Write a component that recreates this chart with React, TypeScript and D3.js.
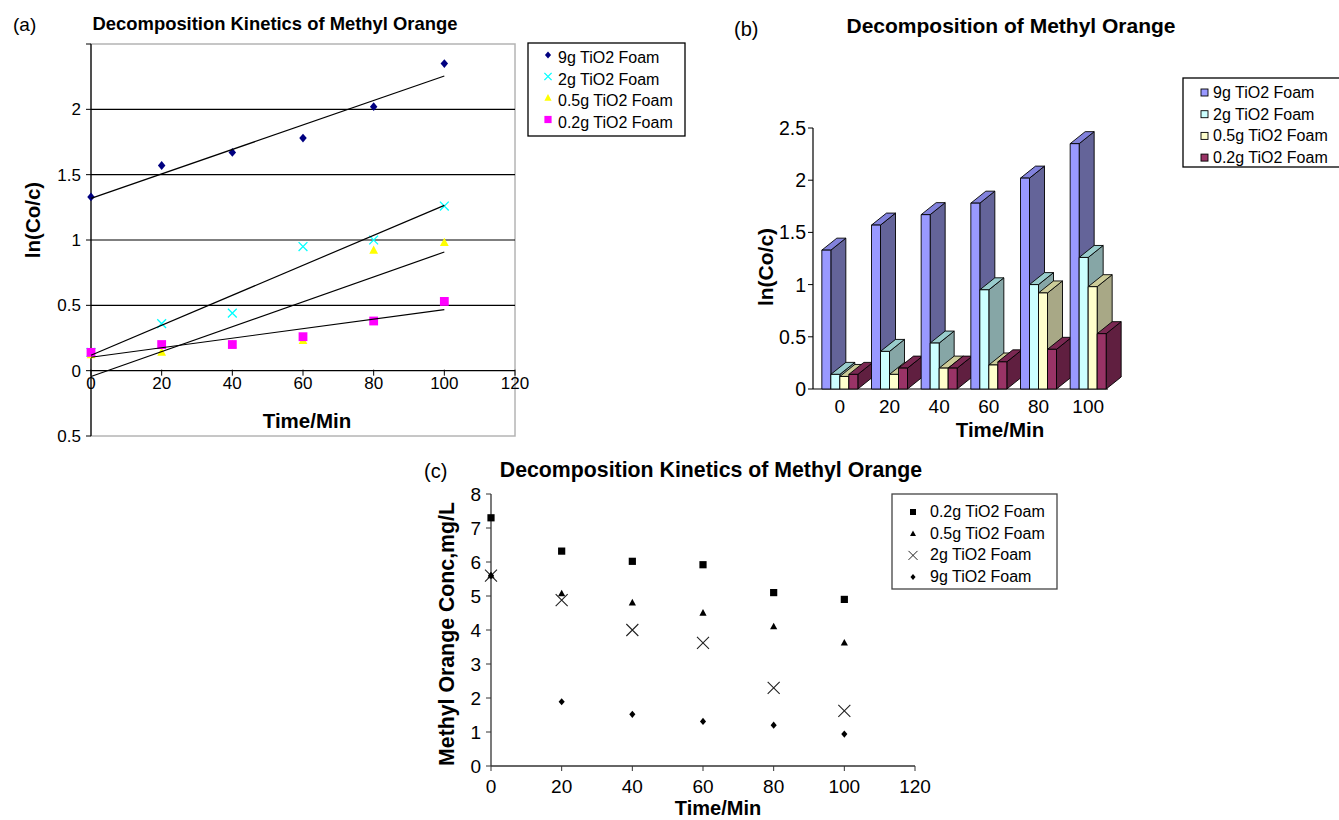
import React from "react";
import * as d3 from "d3";

// ---------- data ----------
const times = [0, 20, 40, 60, 80, 100];
const seriesNames = ["9g TiO2 Foam", "2g TiO2 Foam", "0.5g TiO2 Foam", "0.2g TiO2 Foam"];
const ln9g = [1.33, 1.57, 1.67, 1.78, 2.02, 2.35];
const ln2g = [0.14, 0.36, 0.44, 0.95, 1.0, 1.26];
const ln05g = [0.12, 0.14, 0.2, 0.23, 0.92, 0.98];
const ln02g = [0.14, 0.2, 0.2, 0.26, 0.38, 0.53];

const xTicksA = [0, 20, 40, 60, 80, 100, 120];
const yTicksA = [-0.5, 0, 0.5, 1, 1.5, 2, 2.5];
const yTickLabelsA = ["0.5", "0", "0.5", "1", "1.5", "2", ""];
const gridA = [0.5, 1, 1.5, 2];

const yTicksB = [0, 0.5, 1, 1.5, 2, 2.5];

const seriesNamesC = ["0.2g TiO2 Foam", "0.5g TiO2 Foam", "2g TiO2 Foam", "9g TiO2 Foam"];
const conc02g = [7.3, 6.32, 6.02, 5.92, 5.1, 4.9];
const conc05g = [5.6, 5.07, 4.8, 4.5, 4.1, 3.62];
const conc2g = [5.6, 4.88, 4.0, 3.62, 2.3, 1.62];
const conc9g = [5.6, 1.89, 1.52, 1.31, 1.2, 0.94];
const xTicksC = [0, 20, 40, 60, 80, 100, 120];
const yTicksC = [0, 1, 2, 3, 4, 5, 6, 7, 8];

// ---------- styles ----------
const FONT = "'Liberation Sans', Arial, Helvetica, sans-serif";
const seriesA = [ln9g, ln2g, ln05g, ln02g];
const markerA = ["diamond", "x", "triangle", "square"];
const colorA = ["#000080", "#00FFFF", "#FFFF00", "#FF00FF"];
const barFront = ["#9999FF", "#CCFFFF", "#FFFFCC", "#993366"];
const barSide = ["#646499", "#86A6A6", "#A8A886", "#601F40"];
const barTop = ["#8282DC", "#99CCCC", "#CCCC99", "#7A2852"];
const seriesC = [conc02g, conc05g, conc2g, conc9g];
const markerC = ["square", "triangle", "x", "diamond"];

function linreg(xs: number[], ys: number[]) {
  const mx = d3.mean(xs) as number;
  const my = d3.mean(ys) as number;
  let sxy = 0, sxx = 0;
  xs.forEach((x, i) => {
    sxy += (x - mx) * (ys[i] - my);
    sxx += (x - mx) * (x - mx);
  });
  const b = sxy / sxx;
  return { a: my - b * mx, b };
}

function Marker({ type, cx, cy, r, fill, stroke, sw = 1.3 }: any) {
  if (type === "diamond") {
    return <path d={`M${cx},${cy - r}L${cx + r * 0.85},${cy}L${cx},${cy + r}L${cx - r * 0.85},${cy}Z`} fill={fill} />;
  }
  if (type === "square") {
    return <rect x={cx - r} y={cy - r} width={2 * r} height={2 * r} fill={fill} />;
  }
  if (type === "triangle") {
    return <path d={`M${cx},${cy - r * 1.1}L${cx + r},${cy + r * 0.75}L${cx - r},${cy + r * 0.75}Z`} fill={fill} />;
  }
  return (
    <path d={`M${cx - r},${cy - r}L${cx + r},${cy + r}M${cx - r},${cy + r}L${cx + r},${cy - r}`} stroke={stroke || fill} strokeWidth={sw} fill="none" />
  );
}

function PanelA() {
  const x = d3.scaleLinear().domain([0, 120]).range([91, 515]);
  const y = d3.scaleLinear().domain([-0.5, 2.5]).range([436, 44]);
  const [x0, x1] = x.range();
  const [yb, yt] = y.range();
  return (
    <g fontFamily={FONT}>
      <text x={13} y={31} fontSize={19}>(a)</text>
      <text x={275} y={30} fontSize={18.4} fontWeight="bold" textAnchor="middle">Decomposition Kinetics of Methyl Orange</text>
      <rect x={x0} y={yt} width={x1 - x0} height={yb - yt} fill="none" stroke="#B4B4B4" strokeWidth={1.5} />
      {gridA.map((g) => (
        <line key={g} x1={x0} x2={x1} y1={y(g)} y2={y(g)} stroke="#000" strokeWidth={1.2} />
      ))}
      <line x1={x0} x2={x1} y1={y(0)} y2={y(0)} stroke="#000" strokeWidth={1.2} />
      {xTicksA.map((t) => (
        <g key={t}>
          <line x1={x(t)} x2={x(t)} y1={y(0) - 1} y2={y(0) + 5} stroke="#000" />
          <text x={x(t)} y={y(0) + 18} fontSize={17} textAnchor="middle">{t}</text>
        </g>
      ))}
      <line x1={x0} x2={x0} y1={yt} y2={yb} stroke="#000" strokeWidth={1.2} />
      {yTicksA.map((t, i) => (
        <g key={t}>
          <line x1={x0 - 5} x2={x0} y1={y(t)} y2={y(t)} stroke="#000" />
          <text x={81} y={y(t) + 6} fontSize={17} textAnchor="end">{yTickLabelsA[i]}</text>
        </g>
      ))}
      {seriesA.map((s, si) =>
        s.map((v, i) => (
          <Marker key={`${si}-${i}`} type={markerA[si]} cx={x(times[i])} cy={y(v)} r={4.4} fill={colorA[si]} />
        ))
      )}
      {seriesA.map((s, si) => {
        const { a, b } = linreg(times, s);
        return <line key={si} x1={x(0)} y1={y(a)} x2={x(100)} y2={y(a + b * 100)} stroke="#000" strokeWidth={1.2} />;
      })}
      <text x={(x0 + x1) / 2 + 4} y={428} fontSize={20.5} fontWeight="bold" textAnchor="middle">Time/Min</text>
      <text transform="translate(40,220) rotate(-90)" fontSize={20.5} fontWeight="bold" textAnchor="middle">ln(Co/c)</text>
      <rect x={528} y={43} width={157} height={93} fill="#fff" stroke="#000" strokeWidth={1.3} />
      {seriesNames.map((n, i) => (
        <g key={n}>
          <Marker type={markerA[i]} cx={548} cy={55 + i * 21.5} r={3.6} fill={colorA[i]} />
          <text x={558} y={63 + i * 21.5} fontSize={16}>{n}</text>
        </g>
      ))}
    </g>
  );
}

function PanelB() {
  const x = d3.scaleBand().domain(times.map(String)).range([815, 1113]);
  const y = d3.scaleLinear().domain([0, 2.5]).range([389, 128]);
  const barW = 9;
  const dx = 15;
  const dy = -12;
  const series = [ln9g, ln2g, ln05g, ln02g];
  const y0 = y(0);
  return (
    <g fontFamily={FONT}>
      <text x={734} y={36} fontSize={20}>(b)</text>
      <text x={1011} y={33} fontSize={21} fontWeight="bold" textAnchor="middle">Decomposition of Methyl Orange</text>
      <line x1={813} x2={813} y1={y(2.5)} y2={y0} stroke="#000" strokeWidth={1.2} />
      {yTicksB.map((t) => (
        <g key={t}>
          <line x1={808} x2={813} y1={y(t)} y2={y(t)} stroke="#000" />
          <text x={806} y={y(t) + 7} fontSize={19.5} textAnchor="end">{t}</text>
        </g>
      ))}
      <line x1={813} x2={1108} y1={y0} y2={y0} stroke="#000" strokeWidth={1.2} />
      {times.map((t, gi) => {
        const cx = (x(String(t)) as number) + x.bandwidth() / 2;
        const left = cx - 18;
        return (
          <g key={t}>
            {series.map((s, si) => {
              const bx = left + si * barW;
              const by = y(s[gi]);
              return (
                <g key={si} stroke="#000" strokeWidth={0.9} strokeLinejoin="round">
                  <path d={`M${bx + barW},${by}L${bx + barW + dx},${by + dy}L${bx + barW + dx},${y0 + dy}L${bx + barW},${y0}Z`} fill={barSide[si]} />
                  <path d={`M${bx},${by}L${bx + dx},${by + dy}L${bx + barW + dx},${by + dy}L${bx + barW},${by}Z`} fill={barTop[si]} />
                  <rect x={bx} y={by} width={barW} height={y0 - by} fill={barFront[si]} />
                </g>
              );
            })}
            <text x={cx} y={413} fontSize={19} textAnchor="middle">{t}</text>
          </g>
        );
      })}
      <text x={1000} y={437} fontSize={20.5} fontWeight="bold" textAnchor="middle">Time/Min</text>
      <text transform="translate(773,267) rotate(-90)" fontSize={21} fontWeight="bold" textAnchor="middle">ln(Co/c)</text>
      <rect x={1183} y={78} width={170} height={89} fill="#fff" stroke="#000" strokeWidth={1.3} />
      {seriesNames.map((n, i) => (
        <g key={n}>
          <rect x={1201} y={89 + i * 21.7} width={7} height={7} fill={barFront[i]} stroke="#000" strokeWidth={0.9} />
          <text x={1213} y={98 + i * 21.7} fontSize={16}>{n}</text>
        </g>
      ))}
    </g>
  );
}

function PanelC() {
  const x = d3.scaleLinear().domain([0, 120]).range([491, 915]);
  const y = d3.scaleLinear().domain([0, 8]).range([766, 494]);
  const ax = "#333";
  return (
    <g fontFamily={FONT}>
      <text x={424} y={478} fontSize={20}>(c)</text>
      <text x={711} y={477} fontSize={21.3} fontWeight="bold" textAnchor="middle">Decomposition Kinetics of Methyl Orange</text>
      <line x1={x(0)} x2={x(0)} y1={y(8)} y2={y(0)} stroke={ax} strokeWidth={1.3} />
      {yTicksC.map((t) => (
        <g key={t}>
          <line x1={x(0) - 5} x2={x(0)} y1={y(t)} y2={y(t)} stroke={ax} />
          <text x={481} y={y(t) + 7} fontSize={19} textAnchor="end">{t}</text>
        </g>
      ))}
      <line x1={x(0)} x2={x(120)} y1={y(0)} y2={y(0)} stroke={ax} strokeWidth={1.3} />
      {xTicksC.map((t) => (
        <g key={t}>
          <line x1={x(t)} x2={x(t)} y1={y(0)} y2={y(0) + 5} stroke={ax} />
          <text x={x(t)} y={793} fontSize={19} textAnchor="middle">{t}</text>
        </g>
      ))}
      {seriesC.map((s, si) =>
        s.map((v, i) => (
          <Marker key={`${si}-${i}`} type={markerC[si]} cx={x(times[i])} cy={y(v)} r={markerC[si] === "x" ? 6 : 3.6} fill="#000" stroke="#222" sw={1.1} />
        ))
      )}
      <text x={718} y={815} fontSize={20} fontWeight="bold" textAnchor="middle">Time/Min</text>
      <text transform="translate(454,634) rotate(-90)" fontSize={21.3} fontWeight="bold" textAnchor="middle">Methyl Orange Conc,mg/L</text>
      <rect x={892} y={494} width={165} height={95} fill="#fff" stroke="#444" strokeWidth={1.3} />
      {seriesNamesC.map((n, i) => (
        <g key={n}>
          <Marker type={markerC[i]} cx={913} cy={512 + i * 21.7} r={markerC[i] === "x" ? 4.5 : 3} fill="#000" stroke="#222" sw={1} />
          <text x={930} y={517 + i * 21.7} fontSize={16}>{n}</text>
        </g>
      ))}
    </g>
  );
}

export default function App() {
  return (
    <div style={{ position: "absolute", left: 0, top: 0 }}>
      <svg width={1339} height={820} style={{ display: "block", background: "#fff" }}>
        <PanelA />
        <PanelB />
        <PanelC />
      </svg>
    </div>
  );
}
